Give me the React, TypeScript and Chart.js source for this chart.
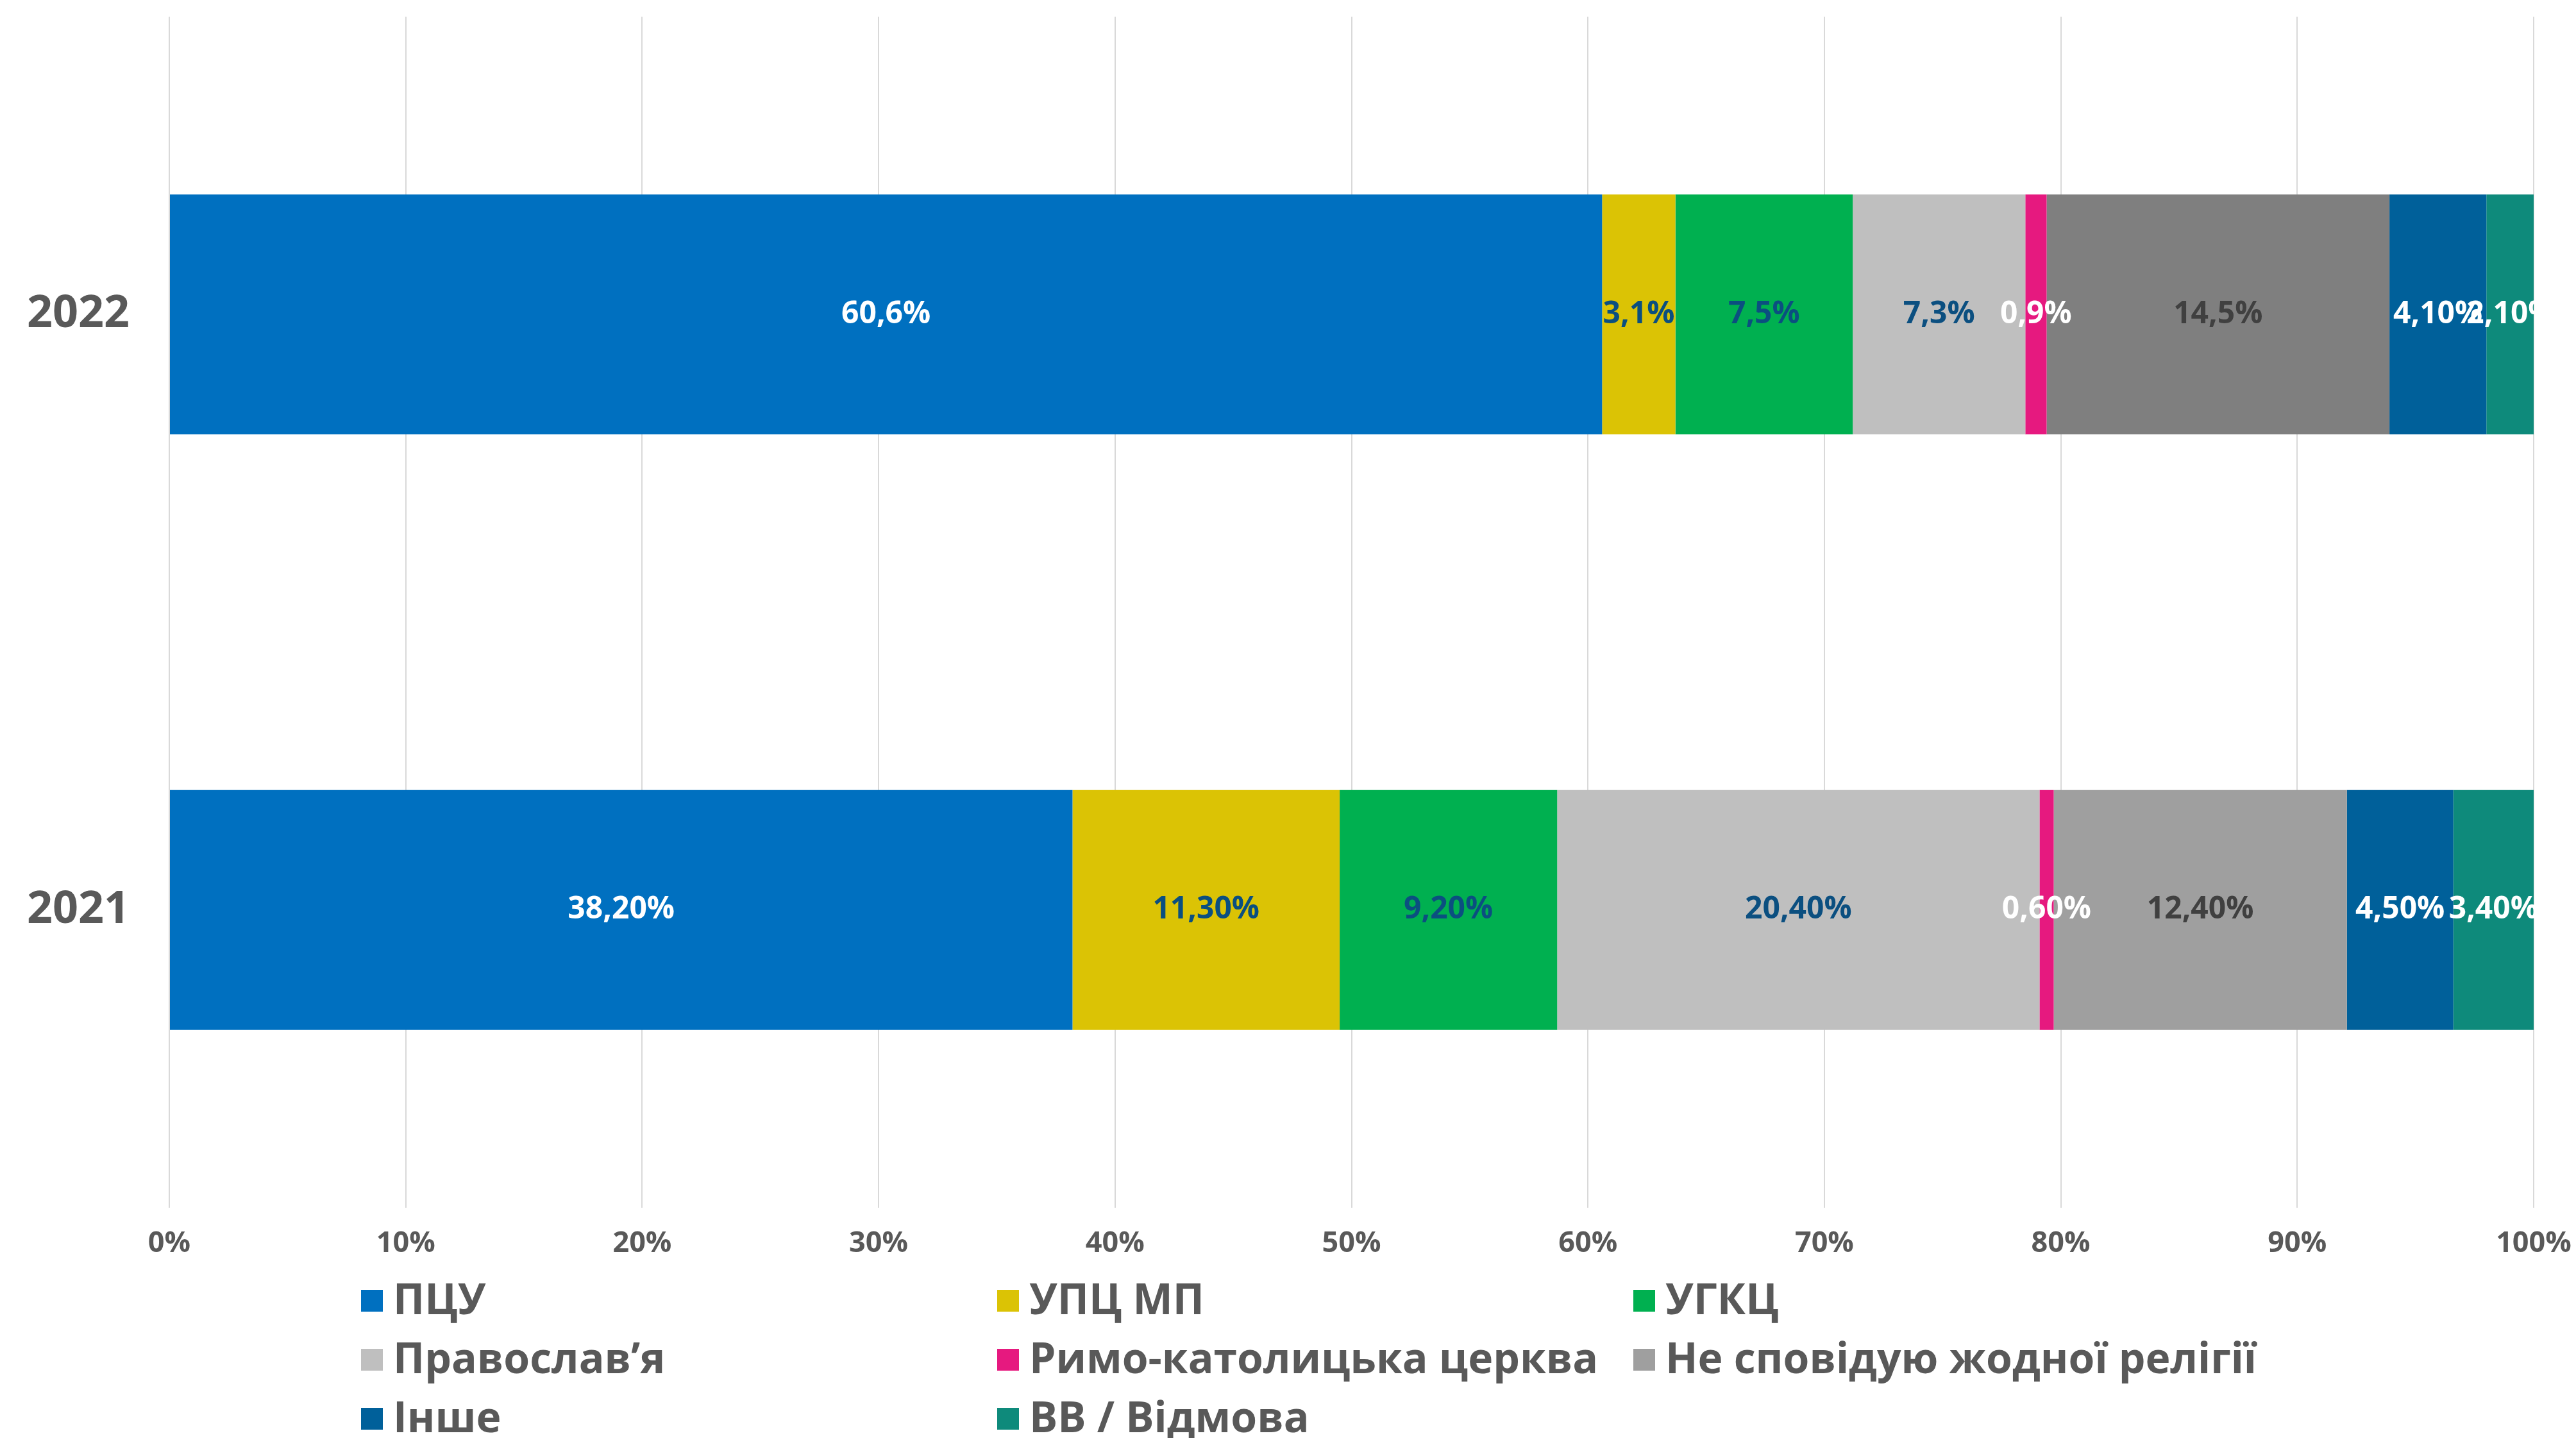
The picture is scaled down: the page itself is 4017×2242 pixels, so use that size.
import React, { useEffect, useRef } from "react";
import { Chart, registerables } from "chart.js";

Chart.register(...registerables);

const YEARS = ["2022", "2021"];
const SERIES = [
  "ПЦУ",
  "УПЦ МП",
  "УГКЦ",
  "Православ’я",
  "Римо-католицька церква",
  "Не сповідую жодної релігії",
  "Інше",
  "ВВ / Відмова",
];
const PCU = [60.6, 38.2];
const UPC_MP = [3.1, 11.3];
const UGKC = [7.5, 9.2];
const ORTHODOX = [7.3, 20.4];
const ROMAN_CATHOLIC = [0.9, 0.6];
const NO_RELIGION = [14.5, 12.4];
const OTHER = [4.1, 4.5];
const REFUSAL = [2.1, 3.4];
const VALUES = [PCU, UPC_MP, UGKC, ORTHODOX, ROMAN_CATHOLIC, NO_RELIGION, OTHER, REFUSAL];

const LABELS_2022 = ["60,6%", "3,1%", "7,5%", "7,3%", "0,9%", "14,5%", "4,10%", "2,10%"];
const LABELS_2021 = ["38,20%", "11,30%", "9,20%", "20,40%", "0,60%", "12,40%", "4,50%", "3,40%"];

const X_TICKS = [0, 10, 20, 30, 40, 50, 60, 70, 80, 90, 100];

const COLORS = [
  ["#0070C0", "#0070C0"],
  ["#DBC305", "#DBC305"],
  ["#00B050", "#00B050"],
  ["#BFBFBF", "#BFBFBF"],
  ["#E6197F", "#E6197F"],
  ["#7F7F7F", "#9F9F9F"],
  ["#00609A", "#00609A"],
  ["#0E8A7B", "#0E8A7B"],
];
const LEGEND_COLORS = ["#0070C0", "#DBC305", "#00B050", "#BFBFBF", "#E6197F", "#9F9F9F", "#00609A", "#0E8A7B"];
const LABEL_COLORS = ["#FFFFFF", "#0B4F80", "#0B4F80", "#0B4F80", "#FFFFFF", "#404040", "#FFFFFF", "#FFFFFF"];

const FONT = "'Open Sans', 'DejaVu Sans', sans-serif";
const TEXT_GRAY = "#595959";

const valueLabelPlugin = {
  id: "valueLabels",
  afterDatasetsDraw(chart: any) {
    const ctx = chart.ctx;
    const area = chart.chartArea;
    ctx.save();
    ctx.beginPath();
    ctx.rect(0, 0, area.right + 15, chart.height);
    ctx.clip();
    ctx.font = `700 48px ${FONT}`;
    ctx.textAlign = "center";
    ctx.textBaseline = "middle";
    chart.data.datasets.forEach((ds: any, di: number) => {
      const meta = chart.getDatasetMeta(di);
      meta.data.forEach((el: any, i: number) => {
        const labels = i === 0 ? LABELS_2022 : LABELS_2021;
        const cx = (el.x + el.base) / 2;
        ctx.fillStyle = LABEL_COLORS[di];
        ctx.fillText(labels[di], cx, el.y);
      });
    });
    ctx.restore();
  },
};

const legendPlugin = {
  id: "gridLegend",
  afterDraw(chart: any) {
    const ctx = chart.ctx;
    const startX = 563;
    const colW = 992;
    const startY = 2028;
    const rowH = 92;
    const box = 34;
    ctx.save();
    ctx.font = `700 66px ${FONT}`;
    ctx.textBaseline = "middle";
    ctx.textAlign = "left";
    chart.data.datasets.forEach((ds: any, i: number) => {
      const col = i % 3;
      const row = Math.floor(i / 3);
      const x = startX + col * colW;
      const y = startY + row * rowH;
      ctx.fillStyle = LEGEND_COLORS[i];
      ctx.fillRect(x, y - box / 2, box, box);
      ctx.fillStyle = TEXT_GRAY;
      ctx.fillText(ds.label, x + box + 16, y + 2);
    });
    ctx.restore();
  },
};

export default function App() {
  const ref = useRef<HTMLCanvasElement | null>(null);

  useEffect(() => {
    document.body.style.margin = "0";
    if (!ref.current) return;
    const chart = new Chart(ref.current, {
      type: "bar",
      data: {
        labels: YEARS,
        datasets: SERIES.map((name, i) => ({
          label: name,
          data: VALUES[i],
          backgroundColor: COLORS[i],
          borderWidth: 0,
          barPercentage: 0.403,
          categoryPercentage: 1,
        })),
      },
      options: {
        indexAxis: "y",
        responsive: false,
        animation: false,
        devicePixelRatio: 1,
        layout: { padding: { top: 26, right: 66, bottom: 259, left: 0 } },
        plugins: {
          legend: { display: false },
          tooltip: { enabled: false },
        },
        scales: {
          x: {
            stacked: true,
            min: 0,
            max: 100,
            afterFit: (scale: any) => {
              scale.height = 100;
              scale.paddingLeft = 0;
              scale.paddingRight = 0;
              scale.paddingTop = 0;
              scale.paddingBottom = 0;
            },
            afterBuildTicks: (scale: any) => {
              scale.ticks = X_TICKS.map((v) => ({ value: v }));
            },
            ticks: {
              callback: (v: any) => `${v}%`,
              color: TEXT_GRAY,
              font: { family: FONT, size: 45, weight: "bold" },
              padding: 29,
              maxRotation: 0,
            },
            grid: { color: "#D9D9D9", lineWidth: 2, drawTicks: false },
            border: { display: false },
          },
          y: {
            stacked: true,
            afterFit: (scale: any) => {
              scale.width = 264;
              scale.paddingTop = 0;
              scale.paddingBottom = 0;
              scale.paddingLeft = 0;
              scale.paddingRight = 0;
            },
            ticks: {
              color: TEXT_GRAY,
              font: { family: FONT, size: 70, weight: "bold" },
              padding: 62,
            },
            grid: { display: false, drawTicks: false },
            border: { display: false },
          },
        },
      },
      plugins: [valueLabelPlugin, legendPlugin],
    } as any);
    return () => chart.destroy();
  }, []);

  return (
    <div style={{ position: "absolute", left: 0, top: 0, width: 4017, height: 2242, background: "#fff" }}>
      <canvas ref={ref} width={4017} height={2242} style={{ width: 4017, height: 2242, display: "block" }} />
    </div>
  );
}
